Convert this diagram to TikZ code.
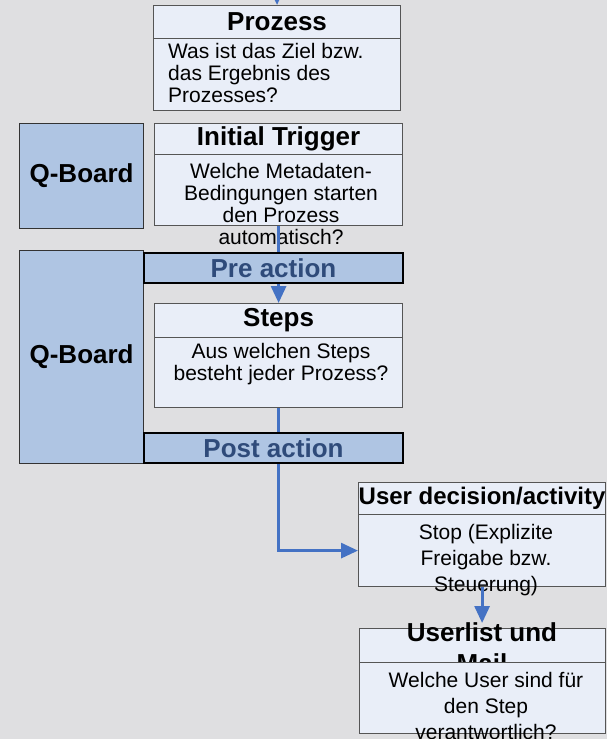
\documentclass[tikz,border=0pt]{standalone}
\usepackage{fontspec}
\setmainfont{Liberation Sans}
\usetikzlibrary{arrows.meta}

\definecolor{bgGray}{HTML}{DFDFE1}
\definecolor{boxFill}{HTML}{E9EEF8}
\definecolor{boardFill}{HTML}{AFC5E3}
\definecolor{flowBlue}{HTML}{4472C4}
\definecolor{actionText}{HTML}{2F4B7A}
\definecolor{boxLine}{HTML}{555555}

\newcommand{\titlefont}{\fontsize{26}{31}\selectfont\bfseries}
\newcommand{\bodyfont}{\fontsize{21}{22}\selectfont}
\newcommand{\lowbodyfont}{\fontsize{21}{26}\selectfont}

\begin{document}
\begin{tikzpicture}[x=1pt, y=-1pt,
    band/.style={draw=boxLine, line width=1.2pt, fill=boxFill, inner sep=0pt, anchor=north west},
    board/.style={draw=black!80, line width=1.2pt, fill=boardFill, inner sep=0pt, anchor=north west, font=\titlefont},
    action/.style={draw=black, line width=2pt, fill=boardFill, inner sep=0pt, anchor=north west,
        minimum width=259pt, minimum height=30pt, text=actionText, font=\titlefont},
    bodytext/.style={anchor=north, align=center, inner sep=0pt, font=\bodyfont},
    flow/.style={draw=flowBlue, line width=3pt, -{Triangle[width=15pt,length=17pt]}}]

    % Background
    \fill[bgGray] (0,0) rectangle (607,739);
    \useasboundingbox (0,0) rectangle (607,739);

    % Prozess
    \node[band, minimum width=247pt, minimum height=33pt, font=\titlefont] (prozess) at (153,5) {Prozess};
    \node[band, minimum width=247pt, minimum height=72pt] (prozessbody) at (153,38) {};
    \node[bodytext, anchor=north west, align=left] (prozesstext) at (168,43)
        {Was ist das Ziel bzw.\\das Ergebnis des\\Prozesses?};

    % Initial Trigger
    \node[board, minimum width=124pt, minimum height=105pt] (boardtop) at (19,123) {Q-Board};
    \node[band, minimum width=248pt, minimum height=31pt, font=\titlefont] (trigger) at (154,123) {Initial Trigger};
    \node[band, minimum width=248pt, minimum height=71pt] (triggerbody) at (154,154) {};
    \node[bodytext] (triggertext) at (281,163)
        {Welche Metadaten-\\Bedingungen starten\\den Prozess\\automatisch?};

    % Steps
    \node[board, minimum width=124pt, minimum height=213pt] (boardmain) at (19,250) {Q-Board};
    \node[band, minimum width=248pt, minimum height=34pt, font=\titlefont] (steps) at (154,303) {Steps};
    \node[band, minimum width=248pt, minimum height=70pt] (stepsbody) at (154,337) {};
    \node[bodytext] (stepstext) at (281,343)
        {Aus welchen Steps\\besteht jeder Prozess?};

    % User decision
    \node[band, minimum width=247pt, minimum height=32pt, font=\fontsize{24}{29}\selectfont\bfseries]
        (decision) at (358,482) {User decision/activity};
    \node[band, minimum width=247pt, minimum height=72pt] (decisionbody) at (358,514) {};
    \node[bodytext, font=\lowbodyfont] (decisiontext) at (486,524)
        {Stop (Explizite\\Freigabe bzw.\\Steuerung)};

    % Userlist und Mail
    \node[band, minimum width=246pt, minimum height=34pt] (userlist) at (359,628) {};
    \node[bodytext, font=\titlefont] (userlisttitle) at (482,622) {Userlist und\\Mail};
    \node[band, minimum width=246pt, minimum height=71pt] (userlistbody) at (359,662) {};
    \node[bodytext, font=\lowbodyfont] (userlisttext) at (486,672)
        {Welche User sind für\\den Step\\verantwortlich?};

    % Connectors
    \coordinate (entry) at (276.5,-30);
    \draw[flow] (entry) -- (prozess.north);
    \draw[flow] (triggerbody.south) -- (steps.north);
    \draw[flow] (stepsbody.south) |- (decisionbody.west);
    \draw[flow, shorten >=5pt] (decisionbody.south) -- (decisionbody.south |- userlist.north);

    % Pre and post action
    \node[action] (preaction) at (143,252) {Pre action};
    \node[action] (postaction) at (143,432) {Post action};

\end{tikzpicture}
\end{document}
